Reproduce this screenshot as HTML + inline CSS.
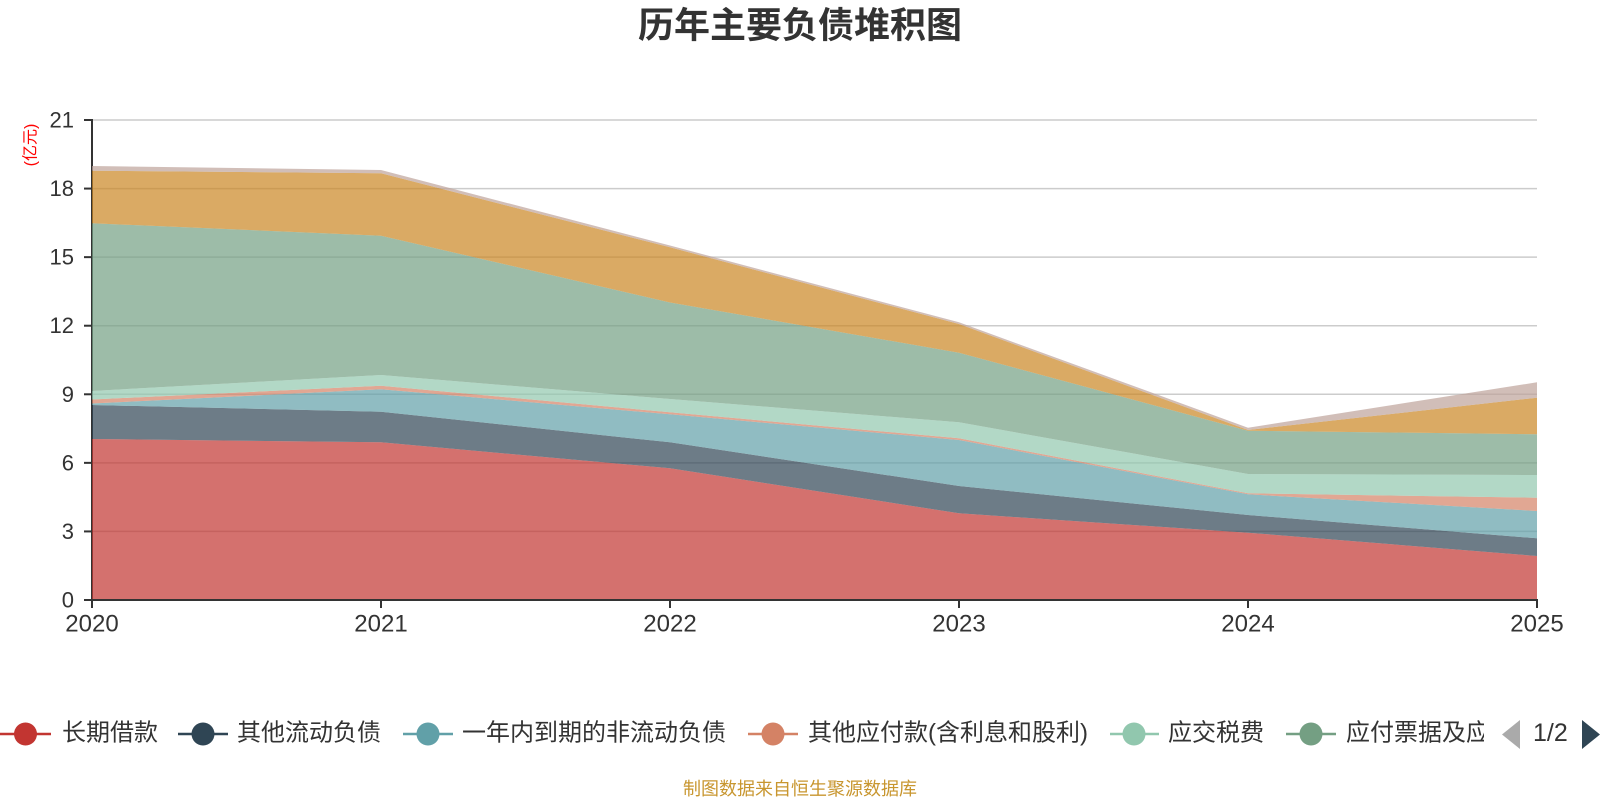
<!DOCTYPE html>
<html>
<head>
<meta charset="utf-8">
<style>
html,body{margin:0;padding:0;background:#fff;}
svg{display:block;font-family:"Liberation Sans","Noto Sans CJK SC",sans-serif;}
</style>
</head>
<body>
<svg width="1600" height="800" viewBox="0 0 1600 800" xmlns="http://www.w3.org/2000/svg">
  <rect width="1600" height="800" fill="#fff"/>
  <!-- title -->
  <text x="800" y="25" text-anchor="middle" dominant-baseline="central" font-size="36" font-weight="bold" fill="#333">历年主要负债堆积图</text>

  <!-- gridlines -->
  <g stroke="#ccc" stroke-width="1.5">
    <line x1="92" y1="120" x2="1537" y2="120"/>
    <line x1="92" y1="188.57" x2="1537" y2="188.57"/>
    <line x1="92" y1="257.14" x2="1537" y2="257.14"/>
    <line x1="92" y1="325.71" x2="1537" y2="325.71"/>
    <line x1="92" y1="394.29" x2="1537" y2="394.29"/>
    <line x1="92" y1="462.86" x2="1537" y2="462.86"/>
    <line x1="92" y1="531.43" x2="1537" y2="531.43"/>
  </g>
  <!-- y axis line -->
  <line x1="92" y1="119" x2="92" y2="600" stroke="#333" stroke-width="2"/>

  <!-- stacked areas -->
  <g fill-opacity="0.7">
    <!-- red 长期借款 -->
    <polygon fill="#c23531" points="92,439 381,442.3 670,468.3 959,513.3 1248,532.7 1537,556 1537,600 92,600"/>
    <!-- dark 其他流动负债 -->
    <polygon fill="#2f4554" points="92,405 381,411.7 670,442.3 959,486 1248,515 1537,538.3 1537,556 1248,532.7 959,513.3 670,468.3 381,442.3 92,439"/>
    <!-- teal -->
    <polygon fill="#61a0a8" points="92,403.5 381,389.3 670,414.3 959,440 1248,494.3 1537,511 1537,538.3 1248,515 959,486 670,442.3 381,411.7 92,405"/>
    <!-- salmon -->
    <polygon fill="#d48265" points="92,399.5 381,385.7 670,412.3 959,438.3 1248,493.3 1537,497.7 1537,511 1248,494.3 959,440 670,414.3 381,389.3 92,403.5"/>
    <!-- light green 应交税费 -->
    <polygon fill="#91c7ae" points="92,391 381,375 670,399 959,422.3 1248,474 1537,475 1537,497.7 1248,493.3 959,438.3 670,412.3 381,385.7 92,399.5"/>
    <!-- green 应付票据及应付账款 -->
    <polygon fill="#749f83" points="92,223.3 381,235.7 670,302.5 959,352.7 1248,430.7 1537,434.3 1537,475 1248,474 959,422.3 670,399 381,375 92,391"/>
    <!-- gold -->
    <polygon fill="#ca8622" points="92,170.7 381,173.3 670,247.3 959,324 1248,430 1537,397.7 1537,434.3 1248,430.7 959,352.7 670,302.5 381,235.7 92,223.3"/>
    <!-- pink -->
    <polygon fill="#bda29a" points="92,166 381,170 670,245.5 959,322.3 1248,427.7 1537,382.3 1537,397.7 1248,430 959,324 670,247.3 381,173.3 92,170.7"/>
  </g>

  <!-- x axis -->
  <line x1="91" y1="600" x2="1538" y2="600" stroke="#333" stroke-width="2"/>
  <g stroke="#333" stroke-width="2">
    <line x1="92" y1="600" x2="92" y2="608"/>
    <line x1="381" y1="600" x2="381" y2="608"/>
    <line x1="670" y1="600" x2="670" y2="608"/>
    <line x1="959" y1="600" x2="959" y2="608"/>
    <line x1="1248" y1="600" x2="1248" y2="608"/>
    <line x1="1537" y1="600" x2="1537" y2="608"/>
    <!-- y ticks -->
    <line x1="84" y1="120" x2="92" y2="120"/>
    <line x1="84" y1="188.57" x2="92" y2="188.57"/>
    <line x1="84" y1="257.14" x2="92" y2="257.14"/>
    <line x1="84" y1="325.71" x2="92" y2="325.71"/>
    <line x1="84" y1="394.29" x2="92" y2="394.29"/>
    <line x1="84" y1="462.86" x2="92" y2="462.86"/>
    <line x1="84" y1="531.43" x2="92" y2="531.43"/>
    <line x1="84" y1="600" x2="92" y2="600"/>
  </g>

  <!-- y labels -->
  <g font-size="22" fill="#333" text-anchor="end" dominant-baseline="central">
    <text x="74" y="120">21</text>
    <text x="74" y="188.57">18</text>
    <text x="74" y="257.14">15</text>
    <text x="74" y="325.71">12</text>
    <text x="74" y="394.29">9</text>
    <text x="74" y="462.86">6</text>
    <text x="74" y="531.43">3</text>
    <text x="74" y="600">0</text>
  </g>
  <!-- x labels -->
  <g font-size="24" fill="#333" text-anchor="middle" dominant-baseline="central">
    <text x="92" y="624">2020</text>
    <text x="381" y="624">2021</text>
    <text x="670" y="624">2022</text>
    <text x="959" y="624">2023</text>
    <text x="1248" y="624">2024</text>
    <text x="1537" y="624">2025</text>
  </g>

  <!-- unit label -->
  <text x="0" y="0" transform="translate(31,145) rotate(-90)" font-size="16" fill="#f00" text-anchor="middle" dominant-baseline="central">(亿元)</text>

  <!-- legend -->
  <defs>
    <clipPath id="lc"><rect x="0" y="700" width="1484" height="70"/></clipPath>
  </defs>
  <g clip-path="url(#lc)" font-size="24" fill="#333" dominant-baseline="central">
    <line x1="0" y1="734" x2="51" y2="734" stroke="#c23531" stroke-width="2.5"/>
    <circle cx="25.5" cy="734" r="11.5" fill="#c23531"/>
    <text x="62" y="733">长期借款</text>

    <line x1="178" y1="734" x2="228" y2="734" stroke="#2f4554" stroke-width="2.5"/>
    <circle cx="203" cy="734" r="11.5" fill="#2f4554"/>
    <text x="237" y="733">其他流动负债</text>

    <line x1="403" y1="734" x2="453" y2="734" stroke="#61a0a8" stroke-width="2.5"/>
    <circle cx="428" cy="734" r="11.5" fill="#61a0a8"/>
    <text x="462" y="733">一年内到期的非流动负债</text>

    <line x1="748" y1="734" x2="798" y2="734" stroke="#d48265" stroke-width="2.5"/>
    <circle cx="773" cy="734" r="11.5" fill="#d48265"/>
    <text x="808" y="733">其他应付款(含利息和股利)</text>

    <line x1="1110" y1="734" x2="1159" y2="734" stroke="#91c7ae" stroke-width="2.5"/>
    <circle cx="1134" cy="734" r="11.5" fill="#91c7ae"/>
    <text x="1168" y="733">应交税费</text>

    <line x1="1286" y1="734" x2="1336" y2="734" stroke="#749f83" stroke-width="2.5"/>
    <circle cx="1311" cy="734" r="11.5" fill="#749f83"/>
    <text x="1346" y="733">应付票据及应付账款</text>
  </g>
  <!-- pager -->
  <polygon points="1520,720 1520,749 1502,734.5" fill="#aaa"/>
  <text x="1533" y="733" font-size="25" fill="#333" dominant-baseline="central">1/2</text>
  <polygon points="1582,720 1582,749 1600,734.5" fill="#2f4554"/>

  <!-- source -->
  <text x="800" y="789" font-size="18" fill="#c8962f" text-anchor="middle" dominant-baseline="central">制图数据来自恒生聚源数据库</text>
</svg>
</body>
</html>
